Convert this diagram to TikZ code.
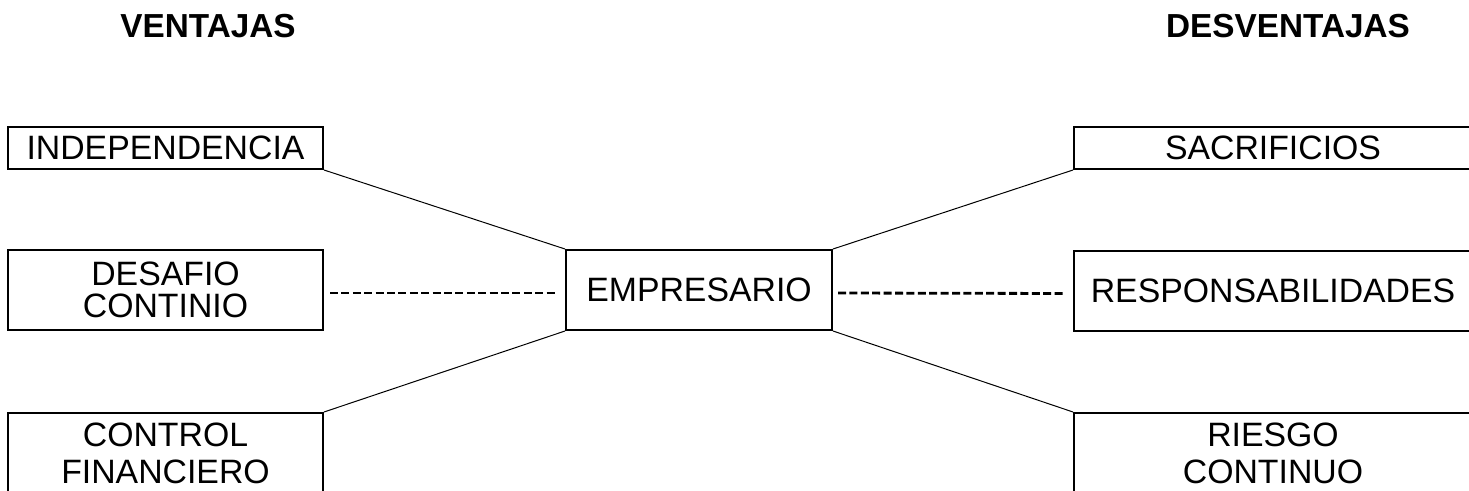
\documentclass[tikz,border=0pt]{standalone}
\usepackage{fontspec}
\setmainfont{Liberation Sans}
\begin{document}
\begin{tikzpicture}[x=1pt,y=-1pt,
  box/.style={draw,line width=2pt,inner sep=0pt,align=center,font=\fontsize{33.8}{32}\selectfont},
  boxtall/.style={box,font=\fontsize{33.8}{37}\selectfont},
  head/.style={font=\bfseries\fontsize{33.3}{32}\selectfont,anchor=base},
  link/.style={line width=1pt},
  dashline/.style={line width=2.8pt,dash pattern=on 8pt off 3.4pt}]
\useasboundingbox (0,0) rectangle (1469,490);
\clip (0,0) rectangle (1469,490);
\node[head] (hv) at (208,37) {VENTAJAS};
\node[head] (hd) at (1288,37) {DESVENTAJAS};
\node[box,minimum width=315pt,minimum height=42pt] (indep) at (165.5,148) {INDEPENDENCIA};
\node[box,minimum width=315pt,minimum height=80pt] (desafio) at (165.5,290) {DESAFIO\\CONTINIO};
\node[boxtall,minimum width=315pt,minimum height=80pt] (control) at (165.5,453) {CONTROL\\FINANCIERO};
\node[box,minimum width=266pt,minimum height=80pt] (emp) at (699,290) {EMPRESARIO};
\node[box,minimum width=398pt,minimum height=42pt] (sacr) at (1273,148) {SACRIFICIOS};
\node[box,minimum width=398pt,minimum height=80pt] (resp) at (1273,290.5) {RESPONSABILIDADES};
\node[boxtall,minimum width=398pt,minimum height=80pt] (riesgo) at (1273,453) {RIESGO\\CONTINUO};
\draw[link] (indep.south east) -- (emp.north west);
\draw[link] (sacr.south west) -- (emp.north east);
\draw[link] (emp.south west) -- (control.north east);
\draw[link] (emp.south east) -- (riesgo.north west);
\draw[dashline,shorten <=6pt,shorten >=8pt] ([yshift=-3pt]desafio.east) -- ([yshift=-3pt]emp.west);
\draw[dashline,shorten <=5pt,shorten >=10pt] ([yshift=-3pt]emp.east) -- ([yshift=-3pt]resp.west);
\end{tikzpicture}
\end{document}
